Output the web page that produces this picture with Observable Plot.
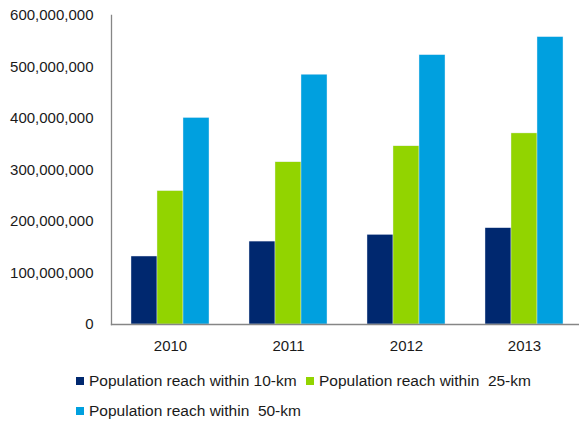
<!DOCTYPE html>
<html>
<head>
<meta charset="utf-8">
<script src="https://cdn.jsdelivr.net/npm/d3@7"></script>
<script src="https://cdn.jsdelivr.net/npm/@observablehq/plot@0.6"></script>
<style>
  html, body { margin: 0; padding: 0; background: #fff; }
  #wrap { position: relative; width: 579px; height: 421px; font-family: "Liberation Sans", Arial, sans-serif; }
  .legend { position: absolute; left: 0; top: 372px; width: 579px; font-size: 15.5px; line-height: 18px; color: #1a1a1a; }
  .item { position: absolute; display: flex; align-items: center; white-space: pre; height: 18px; }
  .sw { width: 8px; height: 8px; margin-right: 5px; }
</style>
</head>
<body>
<div id="wrap"></div>
<script>
const years = ["2010", "2011", "2012", "2013"];
const seriesNames = [
  "Population reach within 10-km",
  "Population reach within  25-km",
  "Population reach within  50-km"
];
const reach10 = [132000000, 161000000, 174000000, 187000000];
const reach25 = [259000000, 315000000, 346000000, 371000000];
const reach50 = [401000000, 485000000, 523000000, 558000000];
const colors = ["#00286f", "#92d400", "#00a0df"];
const yTicks = [0, 100000000, 200000000, 300000000, 400000000, 500000000, 600000000];

const seriesValues = [reach10, reach25, reach50];
const data = years.flatMap((yr, i) =>
  seriesNames.map((s, j) => ({year: yr, series: s, value: seriesValues[j][i]}))
);

const chart = Plot.plot({
  width: 579,
  height: 365,
  marginLeft: 111,
  marginRight: -4,
  marginTop: 15,
  marginBottom: 41,
  style: {fontFamily: "Liberation Sans, Arial, sans-serif", fontSize: "15px", color: "#1a1a1a", background: "#fff"},
  fx: {domain: years, padding: 0, label: null},
  x: {domain: seriesNames, paddingInner: 0, paddingOuter: 0.743, axis: null},
  y: {domain: [0, 600000000], label: null},
  color: {domain: seriesNames, range: colors},
  marks: [
    Plot.axisY({ticks: yTicks, tickFormat: d3.format(","), tickSize: 0, tickPadding: 18, label: null, fontSize: 15}),
    Plot.barY(data, {fx: "year", x: "series", y: "value", fill: "series", stroke: "#e8eef8", strokeWidth: 0.4}),
    Plot.axisFx({anchor: "bottom", tickSize: 0, tickPadding: 16, label: null, fontSize: 15}),
    Plot.frame({anchor: "bottom", stroke: "#868686", strokeWidth: 1.3, facet: "super"}),
    Plot.frame({anchor: "left", stroke: "#868686", strokeWidth: 1.3, facet: "super"})
  ]
});

const wrap = document.getElementById("wrap");
wrap.appendChild(chart);

const legend = document.createElement("div");
legend.className = "legend";
const pos = [[76, 0], [306, 0], [76, 30]];
seriesNames.forEach((s, i) => {
  const it = document.createElement("div");
  it.className = "item";
  it.style.left = pos[i][0] + "px";
  it.style.top = pos[i][1] + "px";
  const sw = document.createElement("span");
  sw.className = "sw";
  sw.style.background = colors[i];
  const tx = document.createElement("span");
  tx.textContent = s;
  it.appendChild(sw);
  it.appendChild(tx);
  legend.appendChild(it);
});
wrap.appendChild(legend);
</script>
</body>
</html>
